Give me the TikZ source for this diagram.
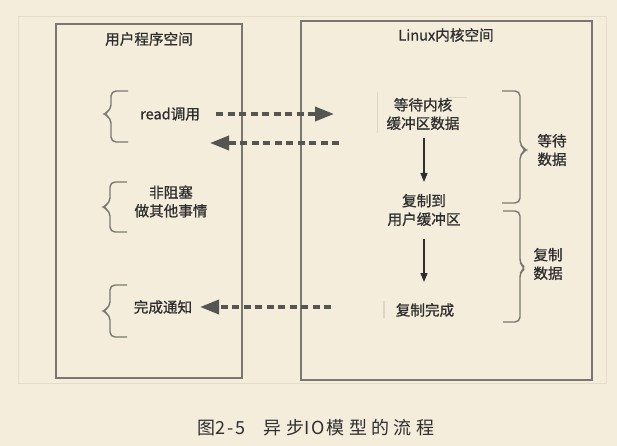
\documentclass[tikz,border=0pt]{standalone}
\usepackage{fontspec}
\setmainfont{Noto Sans CJK SC}
\newfontfamily\lblfont[FakeBold=0.9]{Noto Sans CJK SC}
\usetikzlibrary{arrows.meta}
\definecolor{bg}{HTML}{F4EDDC}
\definecolor{framec}{HTML}{E4DCC8}
\definecolor{boxc}{HTML}{7A7770}
\definecolor{txtc}{HTML}{2E2E2E}
\definecolor{dashc}{HTML}{555552}
\definecolor{faint}{HTML}{DCD5C4}
\tikzset{
  panel/.style={draw=boxc, line width=1.4pt},
  bracec/.style={draw=boxc, line width=1.4pt, rounded corners=5pt},
  lbl/.style={text=txtc, align=center, inner sep=0pt, font=\lblfont\fontsize{14.6}{18.5}\selectfont},
  dasharrow/.style={draw=dashc, line width=3.6pt, dash pattern=on 7pt off 4.5pt, -{Triangle[length=19pt,width=14pt]}},
  flowarrow/.style={draw=txtc, line width=1.3pt, -{Triangle[length=9pt,width=7pt]}},
}
\newcommand{\capsp}[1]{{\addfontfeature{LetterSpace=12}#1}}
\begin{document}
\begin{tikzpicture}[x=1pt,y=-1pt]
\fill[bg] (0,0) rectangle (617,446);
\useasboundingbox (0,0) rectangle (617,446);
\draw[framec, line width=0.8pt] (18,16) rectangle (606,383);
% panels
\draw[panel] (56,24) rectangle (242,378);
\draw[panel] (301,21) rectangle (592,380);
\node[lbl] (utitle) at (149,39) {用户程序空间};
\node[lbl] (ktitle) at (446,35) {Linux内核空间};
% faint artifacts
\draw[faint, line width=0.8pt] (377,92) -- (377,133);
\draw[faint, line width=0.8pt] (448,97) -- (467,97);
\draw[faint, line width=1.6pt] (384,301) -- (384,318);
% left braces
\draw[bracec] (128,91) -- (111,91) -- (111,110) -- (103,114) -- (111,118) -- (111,142) -- (128,142);
\draw[bracec] (127,182) -- (110,182) -- (110,203) -- (102,207) -- (110,211) -- (110,232) -- (127,232);
\draw[bracec] (127,285) -- (110,285) -- (110,307) -- (102,311) -- (110,315) -- (110,337) -- (127,337);
% right braces
\draw[bracec] (502,91) -- (520,91) -- (520,146) -- (527,150) -- (520,154) -- (520,203) -- (502,203);
\draw[bracec] (503,211) -- (520,211) -- (520,264) -- (526,268) -- (520,272) -- (520,322) -- (503,322);
% user texts
\node[lbl] (read) at (170,114) {read调用};
\node[lbl] (nonblock) at (171,201.5) {非阻塞\\做其他事情};
\node[lbl] (notify) at (163,307) {完成通知};
% kernel texts
\node[lbl] (waitk) at (423,114) {等待内核\\缓冲区数据};
\node[lbl] (copyto) at (424,210) {复制到\\用户缓冲区};
\node[lbl] (copydone) at (425,310) {复制完成};
\node[lbl] (waitdata) at (552,150) {等待\\数据};
\node[lbl] (copydata) at (548,264) {复制\\数据};
% connector end points
\coordinate (r1) at (216,114);
\coordinate (r2) at (334,114);
\coordinate (b1) at (339,143);
\coordinate (b2) at (210,143);
\coordinate (n1) at (331,307);
\coordinate (n2) at (200,307);
\coordinate (d1) at (424,138);
\coordinate (d2) at (424,182);
\coordinate (e1) at (424,239);
\coordinate (e2) at (424,282);
\draw[dasharrow] (r1) -- (r2);
\draw[dasharrow] (b1) -- (b2);
\draw[dasharrow] (n1) -- (n2);
\draw[flowarrow] (d1) -- (d2);
\draw[flowarrow] (e1) -- (e2);
% caption
\node[text=txtc, inner sep=0pt, anchor=west, font=\fontsize{18}{20}\selectfont\addfontfeature{LetterSpace=24}] (cap) at (197,428) {图\capsp{2-5}\hspace{18pt}异步\capsp{IO}\hspace{2pt}模型的流程};
\end{tikzpicture}
\end{document}
